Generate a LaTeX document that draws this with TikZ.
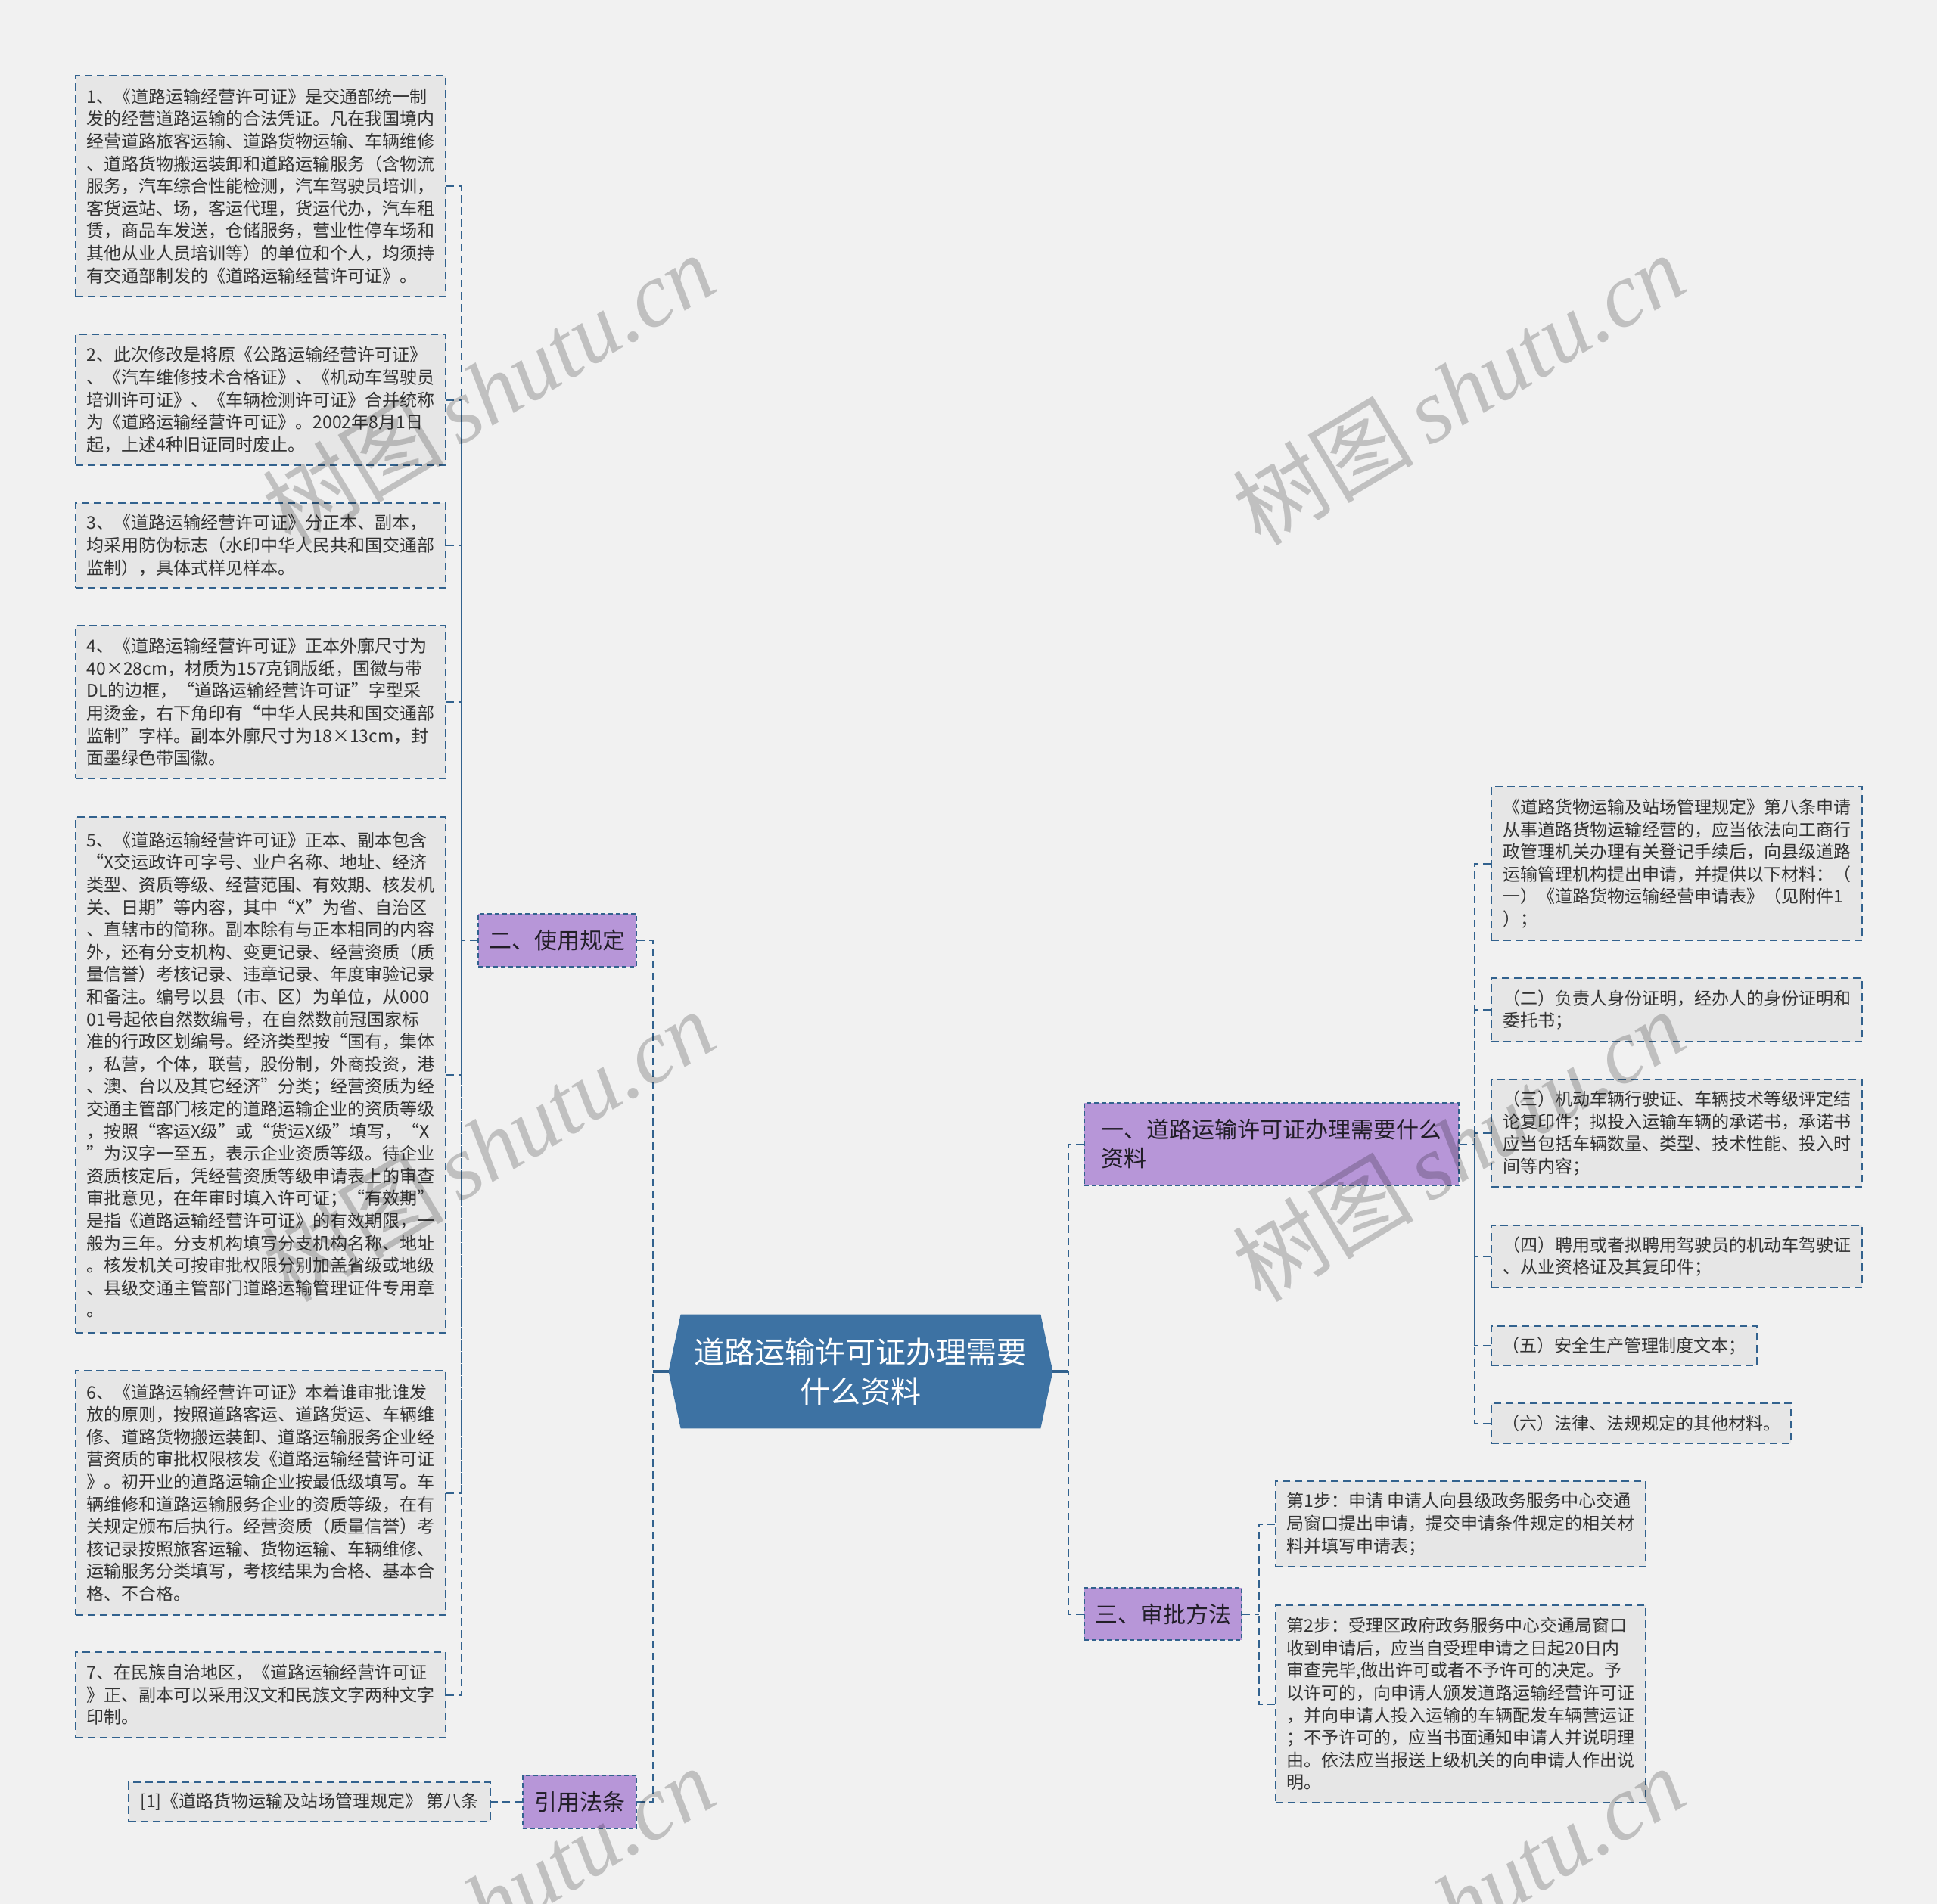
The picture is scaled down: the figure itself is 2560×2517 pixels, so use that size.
\documentclass[tikz,border=0pt]{standalone}
\usepackage{fontspec}
\setmainfont{Noto Sans CJK SC}
\newfontfamily\wmlatin{Liberation Serif}
\usetikzlibrary{calc,backgrounds}
\definecolor{bgcol}{RGB}{241,241,241}
\definecolor{boxfill}{RGB}{230,230,230}
\definecolor{linecol}{RGB}{50,98,142}
\definecolor{purp}{RGB}{183,150,216}
\definecolor{hexcol}{RGB}{61,114,163}
\definecolor{txtcol}{RGB}{51,51,51}
\definecolor{txtdark}{RGB}{34,30,40}
\newcommand\leaffont{\fontsize{11.5pt}{14.8pt}\selectfont}
\newcommand\branchfont{\fontsize{15pt}{19pt}\selectfont}
\newcommand\hexfont{\fontsize{20pt}{26pt}\selectfont}
\newcommand\wmfont{\fontsize{60pt}{64pt}\selectfont}
\tikzset{
  leaf/.style={draw=linecol, dash pattern=on 5pt off 3pt, line width=0.9pt, fill=boxfill,
    inner sep=0pt, align=left, text=txtcol, font=\leaffont},
  branch/.style={draw=linecol, dash pattern=on 3pt off 2pt, line width=0.9pt, fill=purp,
    inner sep=0pt, align=left, text=txtdark, font=\branchfont},
  hexnode/.style={inner sep=0pt, align=center, text=white, font=\hexfont},
  conn/.style={draw=linecol, dash pattern=on 5pt off 3pt, line width=1pt},
  stub/.style={draw=linecol, line width=1.6pt},
  wm/.style={text=black, text opacity=0.2, font=\wmfont, inner sep=0pt}
}
\begin{document}
\begin{tikzpicture}[x=0.5pt,y=-0.5pt]
\useasboundingbox (0,0) rectangle (2560,2517);

% central node
\node[hexnode, minimum width=253.5pt, minimum height=75pt] (c) at (1137.5,1813)
  {道路运输许可证办理需要\\什么资料};

% branch nodes
\node[branch, minimum width=104.5pt, minimum height=35pt] (n2) at (736.5,1243) {二、使用规定};
\node[branch, minimum width=75pt, minimum height=35pt] (law) at (766,2382) {引用法条};
\node[branch, minimum width=247.5pt, minimum height=54.5pt] (n1) at (1680.5,1512.5)
  {一、道路运输许可证办理需要什么\\资料};
\node[branch, minimum width=104pt, minimum height=34.5pt] (n3) at (1537,2133.5) {三、审批方法};

% left leaves
\node[leaf, minimum width=244.5pt, minimum height=146pt] (b1) at (344.5,246) {1、《道路运输经营许可证》是交通部统一制\\发的经营道路运输的合法凭证。凡在我国境内\\经营道路旅客运输、道路货物运输、车辆维修\\、道路货物搬运装卸和道路运输服务（含物流\\服务，汽车综合性能检测，汽车驾驶员培训，\\客货运站、场，客运代理，货运代办，汽车租\\赁，商品车发送，仓储服务，营业性停车场和\\其他从业人员培训等）的单位和个人，均须持\\有交通部制发的《道路运输经营许可证》。};
\node[leaf, minimum width=244.5pt, minimum height=86.5pt] (b2) at (344.5,528.5) {2、此次修改是将原《公路运输经营许可证》\\、《汽车维修技术合格证》、《机动车驾驶员\\培训许可证》、《车辆检测许可证》合并统称\\为《道路运输经营许可证》。2002年8月1日\\起，上述4种旧证同时废止。};
\node[leaf, minimum width=244.5pt, minimum height=56pt] (b3) at (344.5,721) {3、《道路运输经营许可证》分正本、副本，\\均采用防伪标志（水印中华人民共和国交通部\\监制），具体式样见样本。};
\node[leaf, minimum width=244.5pt, minimum height=101pt] (b4) at (344.5,928) {4、《道路运输经营许可证》正本外廓尺寸为\\40×28cm，材质为157克铜版纸，国徽与带\\DL的边框，“道路运输经营许可证”字型采\\用烫金，右下角印有“中华人民共和国交通部\\监制”字样。副本外廓尺寸为18×13cm，封\\面墨绿色带国徽。};
\node[leaf, minimum width=244.5pt, minimum height=341pt] (b5) at (344.5,1421) {5、《道路运输经营许可证》正本、副本包含\\“X交运政许可字号、业户名称、地址、经济\\类型、资质等级、经营范围、有效期、核发机\\关、日期”等内容，其中“X”为省、自治区\\、直辖市的简称。副本除有与正本相同的内容\\外，还有分支机构、变更记录、经营资质（质\\量信誉）考核记录、违章记录、年度审验记录\\和备注。编号以县（市、区）为单位，从000\\01号起依自然数编号，在自然数前冠国家标\\准的行政区划编号。经济类型按“国有，集体\\，私营，个体，联营，股份制，外商投资，港\\、澳、台以及其它经济”分类；经营资质为经\\交通主管部门核定的道路运输企业的资质等级\\，按照“客运X级”或“货运X级”填写，“X\\”为汉字一至五，表示企业资质等级。待企业\\资质核定后，凭经营资质等级申请表上的审查\\审批意见，在年审时填入许可证；“有效期”\\是指《道路运输经营许可证》的有效期限，一\\般为三年。分支机构填写分支机构名称、地址\\。核发机关可按审批权限分别加盖省级或地级\\、县级交通主管部门道路运输管理证件专用章\\。};
\node[leaf, minimum width=244.5pt, minimum height=161.5pt] (b6) at (344.5,1973.5) {6、《道路运输经营许可证》本着谁审批谁发\\放的原则，按照道路客运、道路货运、车辆维\\修、道路货物搬运装卸、道路运输服务企业经\\营资质的审批权限核发《道路运输经营许可证\\》。初开业的道路运输企业按最低级填写。车\\辆维修和道路运输服务企业的资质等级，在有\\关规定颁布后执行。经营资质（质量信誉）考\\核记录按照旅客运输、货物运输、车辆维修、\\运输服务分类填写，考核结果为合格、基本合\\格、不合格。};
\node[leaf, minimum width=244.5pt, minimum height=56.5pt] (b7) at (344.5,2240.5) {7、在民族自治地区，《道路运输经营许可证\\》正、副本可以采用汉文和民族文字两种文字\\印制。};
\node[leaf, minimum width=239pt, minimum height=26pt] (ref) at (409,2382) {[1]《道路货物运输及站场管理规定》 第八条};

% right leaves
\node[leaf, minimum width=245pt, minimum height=101.5pt] (r1) at (2216,1141.5) {《道路货物运输及站场管理规定》第八条申请\\从事道路货物运输经营的，应当依法向工商行\\政管理机关办理有关登记手续后，向县级道路\\运输管理机构提出申请，并提供以下材料：（\\一）《道路货物运输经营申请表》（见附件1\\）；};
\node[leaf, minimum width=245pt, minimum height=42pt] (r2) at (2216,1335) {（二）负责人身份证明，经办人的身份证明和\\委托书；};
\node[leaf, minimum width=245pt, minimum height=71pt] (r3) at (2216,1498) {（三）机动车辆行驶证、车辆技术等级评定结\\论复印件；拟投入运输车辆的承诺书，承诺书\\应当包括车辆数量、类型、技术性能、投入时\\间等内容；};
\node[leaf, minimum width=245pt, minimum height=41pt] (r4) at (2216,1661) {（四）聘用或者拟聘用驾驶员的机动车驾驶证\\、从业资格证及其复印件；};
\node[leaf, minimum width=175.5pt, minimum height=26pt] (r5) at (2146.5,1779) {（五）安全生产管理制度文本；};
\node[leaf, minimum width=198pt, minimum height=26.5pt] (r6) at (2169,1881.5) {（六）法律、法规规定的其他材料。};

\node[leaf, minimum width=244.5pt, minimum height=56.5pt] (s1) at (1930.5,2014.5) {第1步：申请 申请人向县级政务服务中心交通\\局窗口提出申请，提交申请条件规定的相关材\\料并填写申请表；};
\node[leaf, minimum width=244.5pt, minimum height=130.5pt] (s2) at (1930.5,2252.5) {第2步：受理区政府政务服务中心交通局窗口\\收到申请后，应当自受理申请之日起20日内\\审查完毕,做出许可或者不予许可的决定。予\\以许可的，向申请人颁发道路运输经营许可证\\，并向申请人投入运输的车辆配发车辆营运证\\；不予许可的，应当书面通知申请人并说明理\\由。依法应当报送上级机关的向申请人作出说\\明。};

% background and hexagon
\begin{pgfonlayer}{background}
\fill[bgcol] (0,0) rectangle (2560,2517);
\fill[hexcol] ($(c.north west)+(16,0)$) -- ($(c.north east)+(-16,0)$) -- (c.east)
  -- ($(c.south east)+(-16,0)$) -- ($(c.south west)+(16,0)$) -- (c.west) -- cycle;
\end{pgfonlayer}

% connector junctions
\coordinate (tl) at (863,1813);
\coordinate (tr) at (1412,1813);
\coordinate (kl) at (610,1243);
\coordinate (kr) at (1949,1512.5);
\coordinate (ks) at (1664,2133.5);

\draw[stub] (c.west) -- (tl);
\draw[stub] (c.east) -- (tr);
\draw[conn] (n2.east) -| (tl);
\draw[conn] (law.east) -| (tl);
\draw[conn] (n1.west) -| (tr);
\draw[conn] (n3.west) -| (tr);
\draw[conn] (n2.west) -- (kl);
\foreach \b in {b1,b2,b3,b4,b5,b6,b7} \draw[conn] (\b.east) -| (kl);
\draw[conn] (law.west) -- (ref.east);
\draw[conn] (n1.east) -- (kr);
\foreach \b in {r1,r2,r3,r4,r5,r6} \draw[conn] (\b.west) -| (kr);
\draw[conn] (n3.east) -- (ks);
\draw[conn] (s1.west) -| (ks);
\draw[conn] (s2.west) -| (ks);

% watermarks
\foreach \wx/\wy/\wn in {645/514/w1, 1927/514/w2, 645/1514/w3, 1927/1514/w4, 645/2514/w5, 1927/2514/w6}
  \node[wm, rotate=31] (\wn) at (\wx,\wy) {树图\,{\wmlatin\itshape shutu.cn}};
\end{tikzpicture}
\end{document}
